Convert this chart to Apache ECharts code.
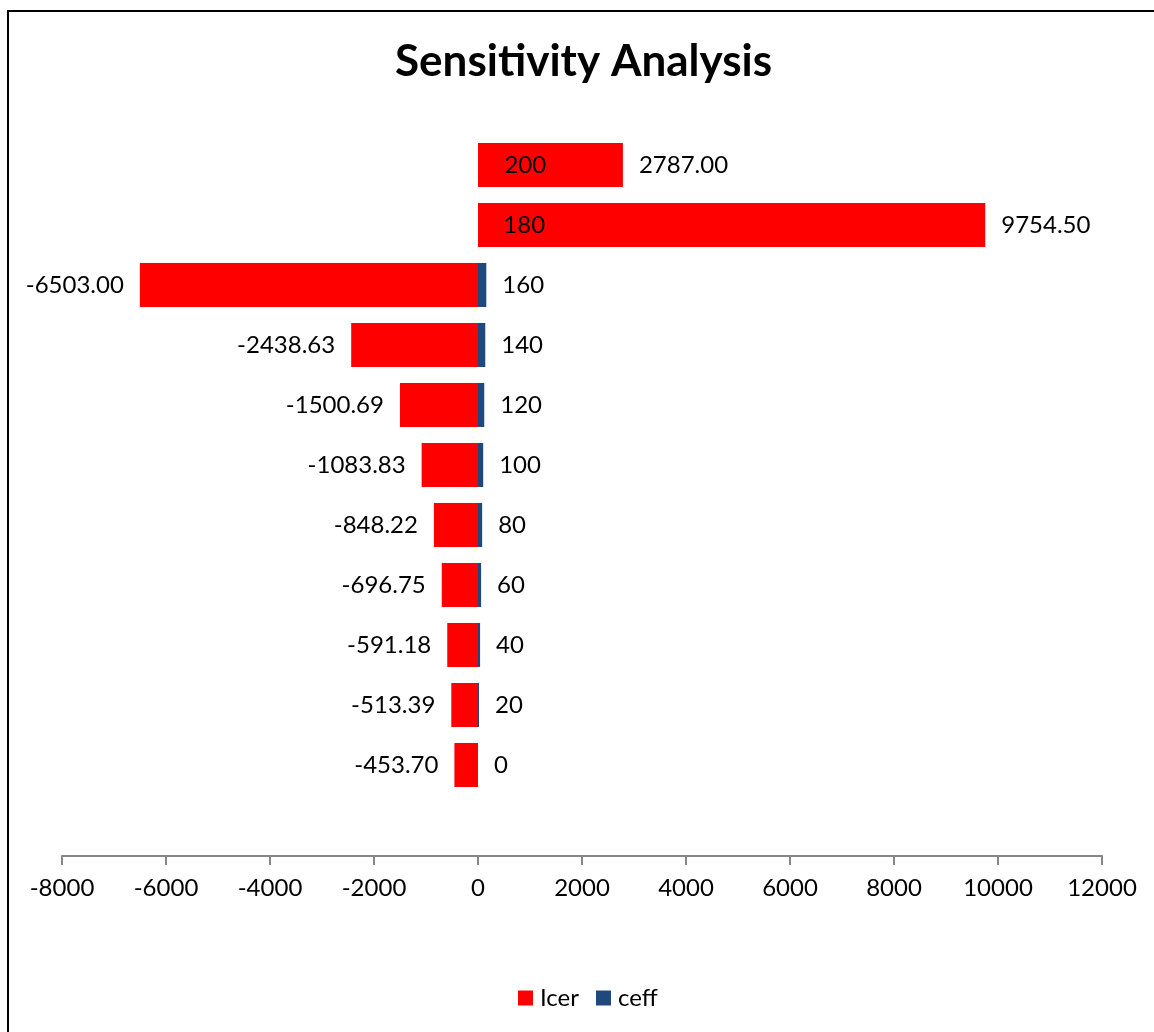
<!DOCTYPE html>
<html>
<head>
<meta charset="utf-8">
<title>Sensitivity Analysis</title>
<script src="https://cdn.jsdelivr.net/npm/echarts@6/dist/echarts.min.js"></script>
<style>
  html, body { margin: 0; padding: 0; background: #fff; }
  #chart { width: 1154px; height: 1032px; }
</style>
</head>
<body>
<div id="chart"></div>
<script>
// categories, bottom to top
const categories = ['0', '20', '40', '60', '80', '100', '120', '140', '160', '180', '200']
// Icer values (red)
const icerValues = [-453.70, -513.39, -591.18, -696.75, -848.22, -1083.83, -1500.69, -2438.63, -6503.00, 9754.50, 2787.00]
// ceff values (blue), shown as labels next to the bars
const ceffValues = [0, 20, 40, 60, 80, 100, 120, 140, 160, 180, 200]
// x axis ticks
const xTicks = [-8000, -6000, -4000, -2000, 0, 2000, 4000, 6000, 8000, 10000, 12000]

const fontName = 'Lato'
const chart = echarts.init(document.getElementById('chart'))

const option = {
  backgroundColor: '#fff',
  textStyle: { fontFamily: fontName, color: '#000' },
  animation: false,
  graphic: [
    {
      type: 'rect',
      shape: { x: 8, y: 11, width: 1200, height: 1100 },
      style: { fill: 'none', stroke: '#000', lineWidth: 2 },
      silent: true
    }
  ],
  title: {
    text: 'Sensitivity Analysis',
    left: 390,
    top: 35,
    textStyle: { fontFamily: fontName, fontSize: 44, fontWeight: 'bold', color: '#000' }
  },
  legend: {
    data: ['Icer', 'ceff'],
    bottom: 17,
    left: 513,
    itemWidth: 15,
    itemHeight: 15,
    itemGap: 17,
    icon: 'rect',
    textStyle: { fontFamily: fontName, fontSize: 24, color: '#000', padding: [0, 0, 0, 2] }
  },
  grid: {
    left: 62,
    right: 52,
    top: 135,
    bottom: 237
  },
  xAxis: {
    type: 'value',
    min: xTicks[0],
    max: xTicks[xTicks.length - 1],
    interval: 2000,
    offset: 61,
    axisLine: { show: true, onZero: false, lineStyle: { color: '#868686', width: 2 } },
    axisTick: { show: true, length: 9, lineStyle: { color: '#868686', width: 2 } },
    splitLine: { show: false },
    axisLabel: {
      fontFamily: fontName,
      fontSize: 24,
      color: '#000',
      margin: 20,
      formatter: v => String(v)
    }
  },
  yAxis: {
    type: 'category',
    data: categories,
    show: false
  },
  series: [
    {
      name: 'ceff',
      type: 'bar',
      data: ceffValues,
      barWidth: 44,
      barGap: '-100%',
      itemStyle: { color: '#1F497D' },
      label: {
        show: true,
        position: 'right',
        distance: 16,
        fontFamily: fontName,
        fontSize: 24,
        color: '#000'
      }
    },
    {
      name: 'Icer',
      type: 'bar',
      data: icerValues,
      barWidth: 44,
      barGap: '-100%',
      itemStyle: { color: '#FF0000' },
      label: {
        show: true,
        position: 'right',
        distance: 16,
        fontFamily: fontName,
        fontSize: 24,
        color: '#000',
        formatter: p => p.value.toFixed(2)
      }
    }
  ]
}

// negative bars get their labels on the left
option.series[1].data = icerValues.map(v => ({
  value: v,
  label: { position: v < 0 ? 'left' : 'right' }
}))

chart.setOption(option)
</script>
</body>
</html>
